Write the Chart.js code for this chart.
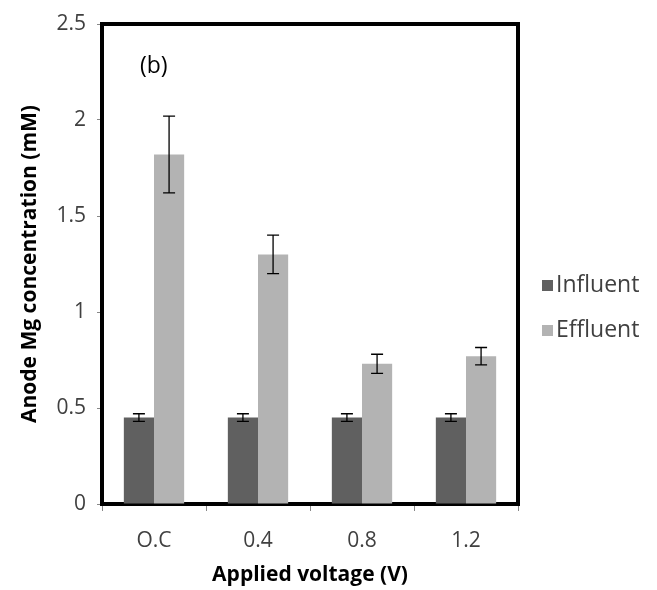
<!DOCTYPE html>
<html>
<head>
<meta charset="utf-8">
<script src="https://cdn.jsdelivr.net/npm/chart.js@4/dist/chart.umd.min.js"></script>
<style>
  html, body { margin: 0; padding: 0; background: #fff; }
  #wrap { width: 657px; height: 590px; }
</style>
</head>
<body>
<div id="wrap"><canvas id="chart"></canvas></div>
<script>
const categories = ['O.C', '0.4', '0.8', '1.2'];
const influent = [0.45, 0.45, 0.45, 0.45];
const influentErr = [0.02, 0.02, 0.02, 0.02];
const effluent = [1.82, 1.30, 0.73, 0.77];
const effluentErr = [0.20, 0.10, 0.05, 0.045];
const seriesNames = ['Influent', 'Effluent'];
const seriesColors = ['#606060', '#b3b3b3'];
const FONT = '"Open Sans", "Liberation Sans", sans-serif';

// thick black frame around the plot area
const framePlugin = {
  id: 'frame',
  beforeDatasetsDraw(chart) {
    const { ctx, chartArea: a } = chart;
    ctx.save();
    ctx.strokeStyle = '#000';
    ctx.lineWidth = 4;
    ctx.strokeRect(a.left, a.top, a.right - a.left, a.bottom - a.top);
    ctx.restore();
  }
};

// error bars and the "(b)" label
const errorBarPlugin = {
  id: 'errorBars',
  afterDatasetsDraw(chart) {
    const { ctx } = chart;
    const y = chart.scales.y;
    const errs = [influentErr, effluentErr];
    ctx.save();
    ctx.strokeStyle = '#000';
    ctx.lineWidth = 1.3;
    chart.data.datasets.forEach((ds, i) => {
      chart.getDatasetMeta(i).data.forEach((bar, j) => {
        const v = ds.data[j], e = errs[i][j];
        const yt = y.getPixelForValue(v + e), yb = y.getPixelForValue(v - e);
        ctx.beginPath();
        ctx.moveTo(bar.x, yt); ctx.lineTo(bar.x, yb);
        ctx.moveTo(bar.x - 6, yt); ctx.lineTo(bar.x + 6, yt);
        ctx.moveTo(bar.x - 6, yb); ctx.lineTo(bar.x + 6, yb);
        ctx.stroke();
      });
    });
    ctx.fillStyle = '#000';
    ctx.font = '23px ' + FONT;
    ctx.textBaseline = 'middle';
    ctx.fillText('(b)', chart.chartArea.left + 38, 66);
    ctx.restore();
  }
};

// legend on the right
const legendPlugin = {
  id: 'sideLegend',
  afterDraw(chart) {
    const { ctx } = chart;
    ctx.save();
    ctx.font = '23px ' + FONT;
    ctx.textBaseline = 'middle';
    seriesNames.forEach((name, i) => {
      const yy = 285 + i * 45;
      ctx.fillStyle = seriesColors[i];
      ctx.fillRect(542, yy - 5, 11, 11);
      ctx.fillStyle = '#404040';
      ctx.fillText(name, 556, yy);
    });
    ctx.restore();
  }
};

new Chart(document.getElementById('chart'), {
  type: 'bar',
  data: {
    labels: categories,
    datasets: [
      { label: seriesNames[0], data: influent, backgroundColor: seriesColors[0] },
      { label: seriesNames[1], data: effluent, backgroundColor: seriesColors[1] }
    ]
  },
  options: {
    responsive: true,
    maintainAspectRatio: false,
    animation: false,
    layout: { padding: { top: 24, right: 139, left: 0, bottom: 0 } },
    datasets: { bar: { categoryPercentage: 0.58, barPercentage: 1.0 } },
    plugins: { legend: { display: false }, tooltip: { enabled: false } },
    scales: {
      x: {
        grid: { display: true, drawOnChartArea: false, offset: true, tickLength: 7, color: '#888' },
        border: { display: false },
        ticks: { color: '#404040', font: { family: FONT, size: 21 }, padding: 17 },
        title: { display: true, text: 'Applied voltage (V)', color: '#000', font: { family: FONT, size: 21, weight: 'bold' }, padding: { top: 0, bottom: 2 } },
        afterFit(scale) { scale.height = 86; }
      },
      y: {
        min: 0,
        max: 2.5,
        ticks: { stepSize: 0.5, color: '#404040', font: { family: FONT, size: 21 }, padding: 11, callback: v => String(v) },
        grid: { display: true, drawOnChartArea: false, tickLength: 5, color: '#888' },
        border: { display: false },
        title: { display: true, text: 'Anode Mg concentration (mM)', color: '#000', font: { family: FONT, size: 21, weight: 'bold' }, padding: { top: 17, bottom: 0 } },
        afterFit(scale) { scale.width = 102; }
      }
    }
  },
  plugins: [framePlugin, errorBarPlugin, legendPlugin]
});
</script>
</body>
</html>
